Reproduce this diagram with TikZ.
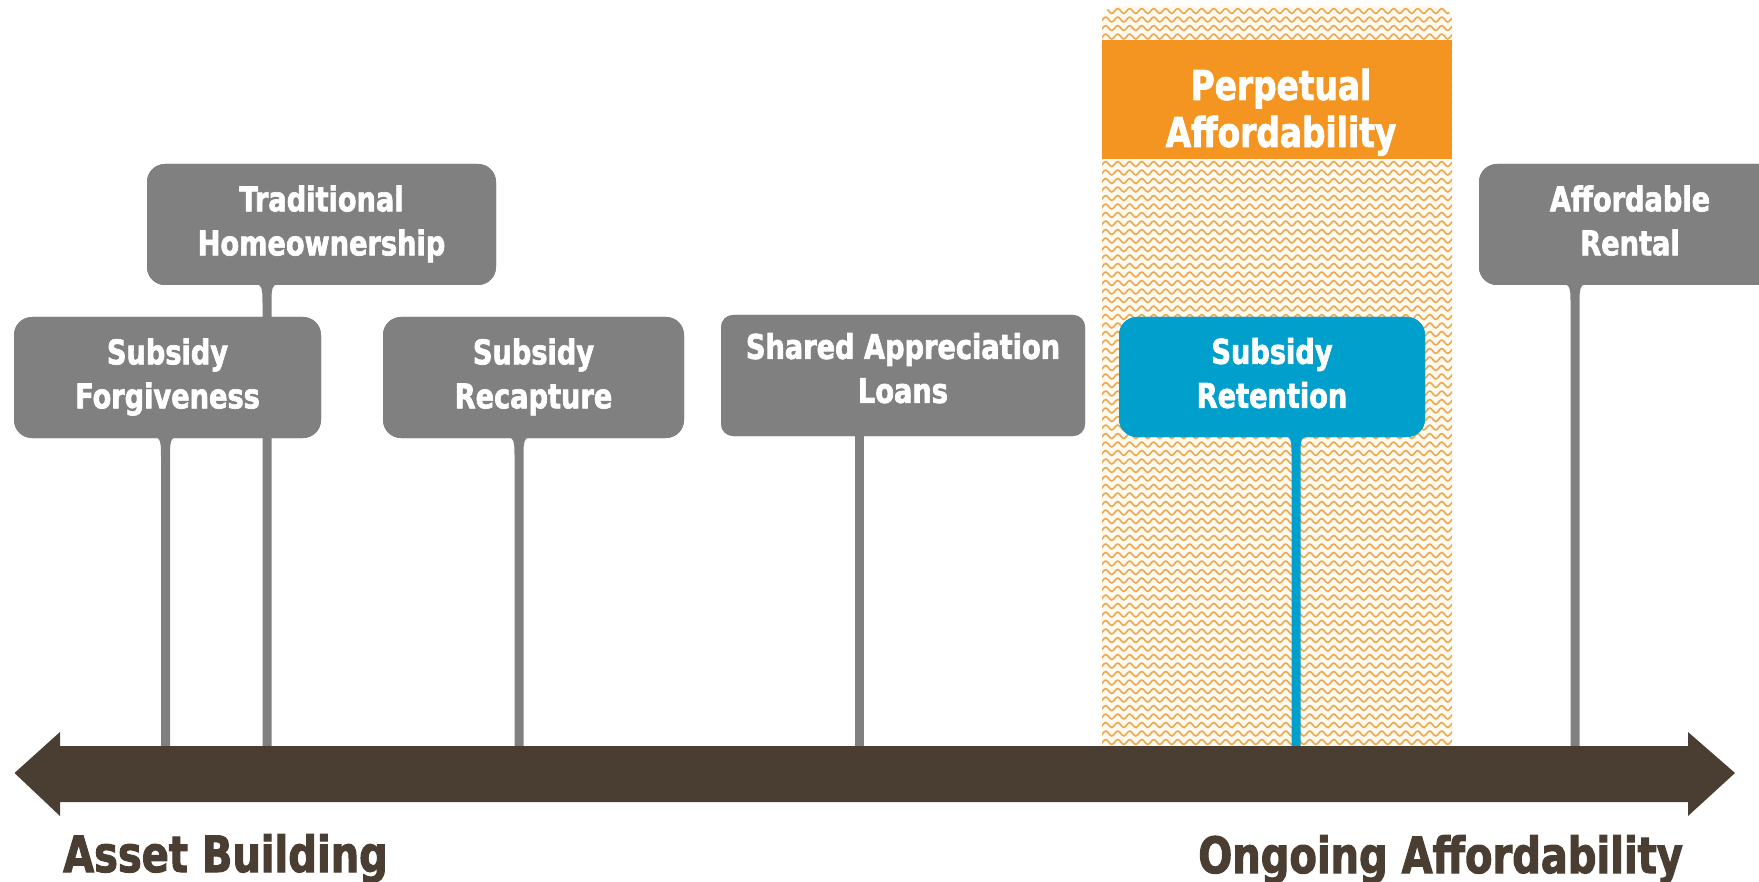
\documentclass[tikz,border=0pt]{standalone}
\usepackage{fontspec}
\setmainfont{DejaVu Sans}[FakeStretch=0.8,FakeBold=2]
\usetikzlibrary{calc,decorations.pathmorphing}
\definecolor{boxgray}{RGB}{128,128,128}
\definecolor{retblue}{RGB}{0,159,204}
\definecolor{perporange}{RGB}{244,148,33}
\definecolor{axisbrown}{RGB}{74,61,49}
\definecolor{hatchcol}{RGB}{236,168,80}
\definecolor{hatchbg}{RGB}{255,249,238}
\newcommand\flarestem[3]{% #1 colour, #2 box node, #3 axis coordinate
  \coordinate (ft) at (#2.south -| #3);
  \fill[#1] ($(ft)+(-24,-2)$) .. controls ($(ft)+(-4.5,-2)$) .. ($(ft)+(-4.5,20)$)
    -- ($(#3)+(-4.5,0)$) -- ($(#3)+(4.5,0)$) -- ($(ft)+(4.5,20)$)
    .. controls ($(ft)+(4.5,-2)$) .. ($(ft)+(24,-2)$) -- cycle;}
\tikzset{
  callout/.style={fill=#1, rounded corners=18pt, inner sep=0pt, text=white, align=center,
    font=\fontsize{34}{44}\selectfont\bfseries},
  callout/.default=boxgray,
  axislabel/.style={inner sep=0pt, text=axisbrown, font=\fontsize{50}{60}\selectfont\bfseries},
  hatchrow/.style={draw=hatchcol, line width=1.6pt, decorate,
    decoration={snake, segment length=12pt, amplitude=2.4pt}},
}
\begin{document}
\begin{tikzpicture}[x=1pt,y=-1pt]
\useasboundingbox (0,0) rectangle (1759,882);
\clip (0,0) rectangle (1759,882);
% hatched perpetual affordability zone
\begin{scope}
  \clip[rounded corners=15pt] (1102,6) rectangle (1452,790);
  \fill[hatchbg] (1102,6) rectangle (1452,790);
  \foreach \yy in {11,19.5,...,752}
    \draw[hatchrow] (1090,\yy) -- (1465,\yy);
\end{scope}
\node[fill=perporange, minimum width=350pt, minimum height=119pt, inner sep=0pt] (perp) at (1277,99.5) {};
\node[inner sep=0pt, text=white, align=center, font=\fontsize{41}{47}\selectfont\bfseries] (perptext) at (1281,114)
  {\strut Perpetual\\\strut Affordability};
% axis coordinates
\coordinate (a1) at (165.5,750);
\coordinate (a2) at (267,750);
\coordinate (a3) at (519,750);
\coordinate (a4) at (859,750);
\coordinate (a5) at (1296,750);
\coordinate (a6) at (1575,750);
% boxes (positions)
\path
  node[callout, minimum width=349pt, minimum height=121pt] (trad) at (321.5,224.5) {}
  node[callout, minimum width=307pt, minimum height=121pt] (forg) at (167.5,377.5) {}
  node[callout, minimum width=301pt, minimum height=121pt] (recap) at (533.5,377.5) {}
  node[callout, rounded corners=12pt, minimum width=364pt, minimum height=121pt] (shared) at (903,375.5) {}
  node[callout=retblue, minimum width=306pt, minimum height=120pt] (reten) at (1272,377) {}
  node[callout, minimum width=302pt, minimum height=121pt] (rental) at (1630,224.5) {};
% stems
\flarestem{boxgray}{trad}{a2}
\flarestem{boxgray}{forg}{a1}
\flarestem{boxgray}{recap}{a3}
\fill[boxgray] ($(shared.south -| a4)+(-4.5,-2)$) rectangle ($(a4)+(4.5,0)$);
\flarestem{retblue}{reten}{a5}
\flarestem{boxgray}{rental}{a6}
% boxes drawn on top of stems
\node[callout, minimum width=349pt, minimum height=121pt] (trad) at (321.5,224.5) {\strut Traditional\\\strut Homeownership};
\node[callout, minimum width=307pt, minimum height=121pt] (forg) at (167.5,377.5) {\strut Subsidy\\\strut Forgiveness};
\node[callout, minimum width=301pt, minimum height=121pt] (recap) at (533.5,377.5) {\strut Subsidy\\\strut Recapture};
\node[callout, rounded corners=12pt, minimum width=364pt, minimum height=121pt] (shared) at (903,375.5) {\strut Shared Appreciation\\\strut Loans\rule[-20pt]{0pt}{1pt}};
\node[callout=retblue, minimum width=306pt, minimum height=120pt] (reten) at (1272,377) {\strut Subsidy\\\strut Retention};
\node[callout, minimum width=302pt, minimum height=121pt] (rental) at (1630,224.5) {\strut Affordable\\\strut Rental};
% axis arrow
\fill[axisbrown] (14.5,773) -- (60,732) -- (60,746) -- (1688,746) -- (1688,732) -- (1735,773)
  -- (1688,816) -- (1688,802) -- (60,802) -- (60,816) -- cycle;
\node[axislabel, anchor=base west] (asset) at (63,872) {Asset Building};
\node[axislabel, anchor=base east] (ongoing) at (1683,873) {Ongoing Affordability};
\end{tikzpicture}
\end{document}
